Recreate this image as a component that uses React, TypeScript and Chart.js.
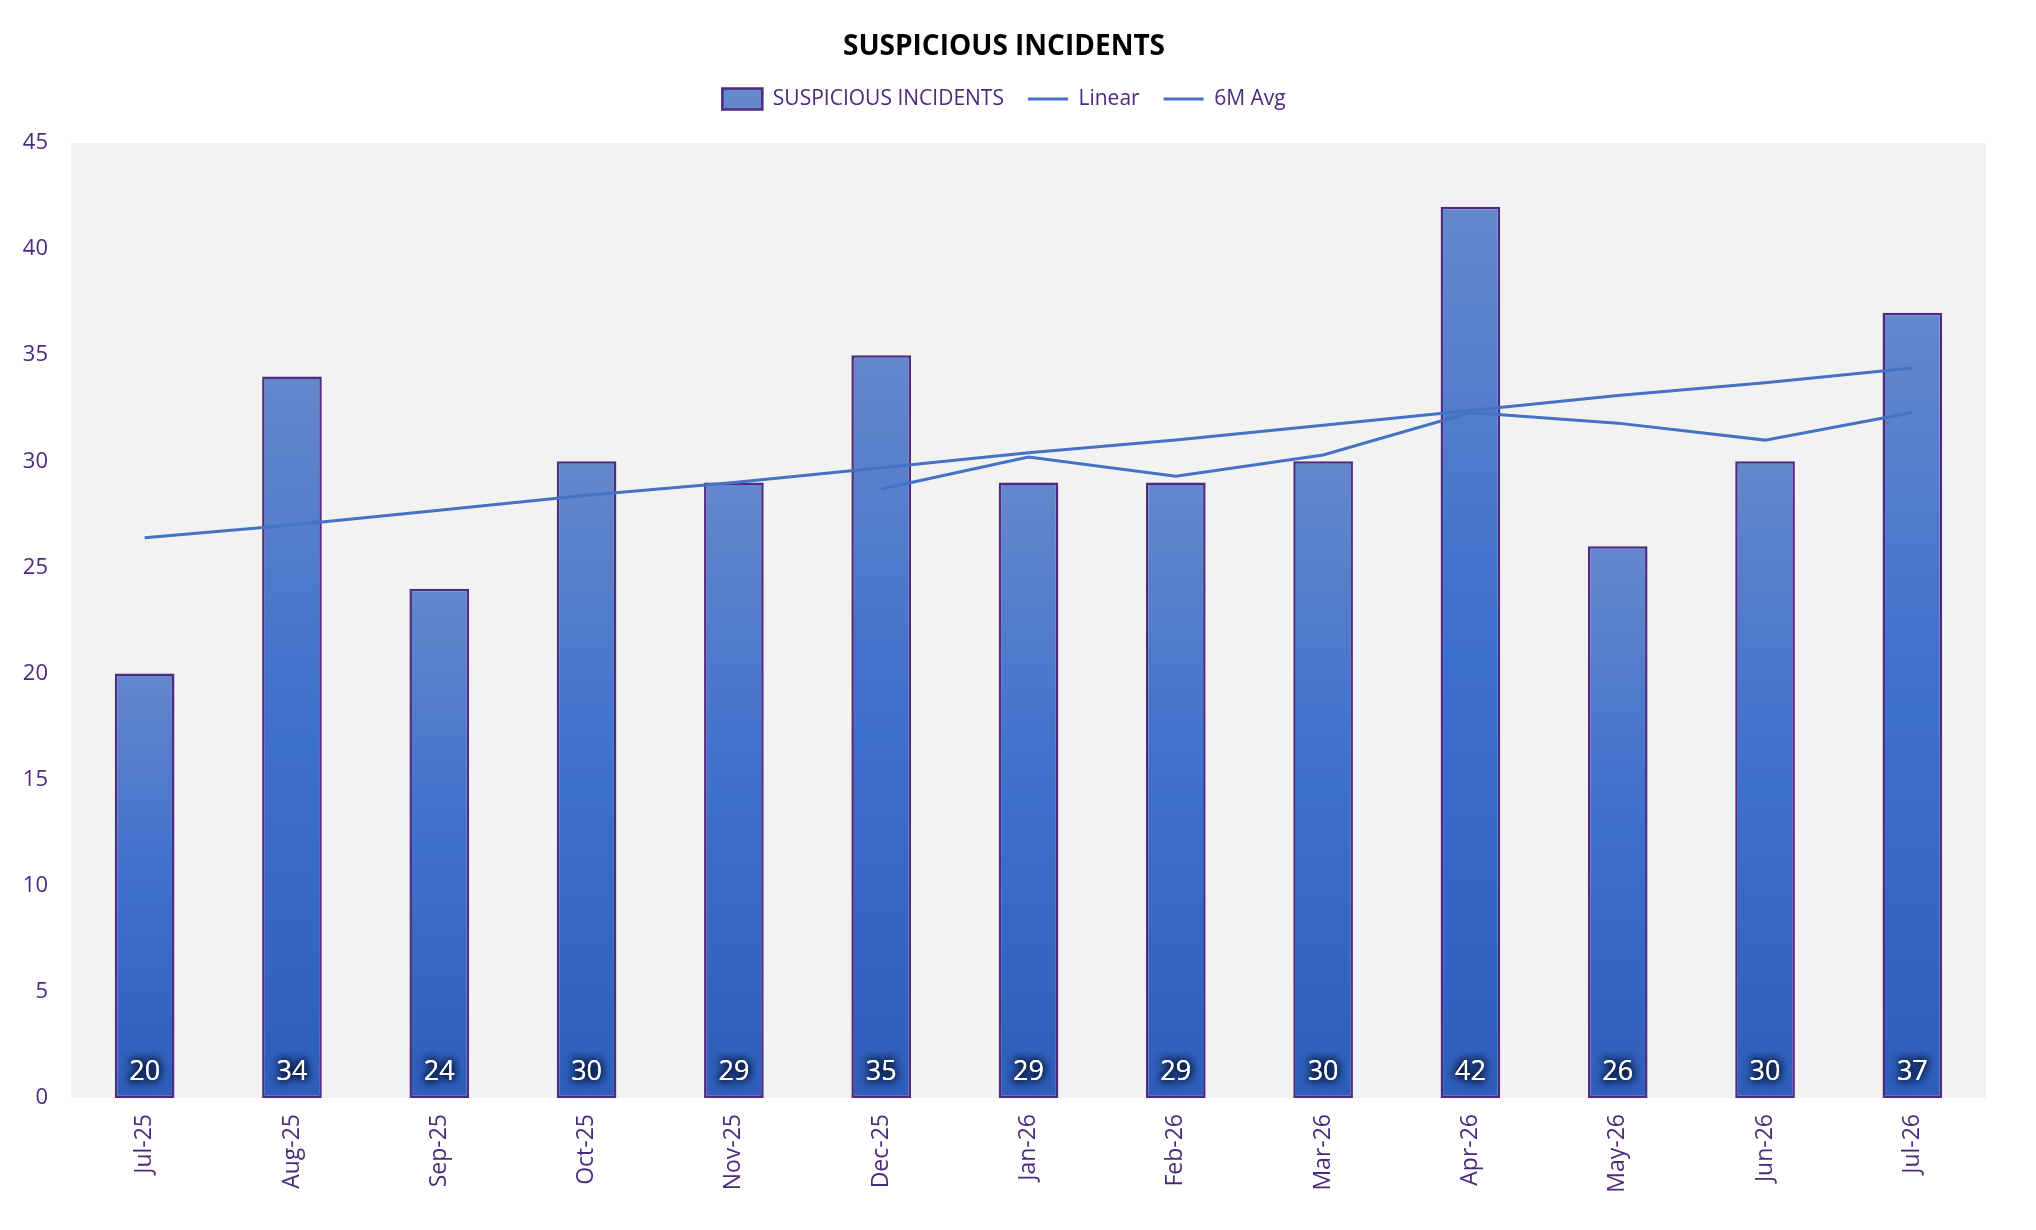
import { useEffect, useRef } from "react";
import { Chart, registerables, Plugin, ScriptableContext } from "chart.js";

Chart.register(...registerables);

// data
const months = ["Jul-25", "Aug-25", "Sep-25", "Oct-25", "Nov-25", "Dec-25", "Jan-26", "Feb-26", "Mar-26", "Apr-26", "May-26", "Jun-26", "Jul-26"];
const incidents = [20, 34, 24, 30, 29, 35, 29, 29, 30, 42, 26, 30, 37];
const linearTrend = [26.4, 27.0, 27.7, 28.4, 29.0, 29.7, 30.4, 31.0, 31.7, 32.4, 33.1, 33.7, 34.4];
const sixMonthAvg = [null, null, null, null, null, 28.7, 30.2, 29.3, 30.3, 32.3, 31.8, 31.0, 32.3];
const yMax = 45;
const yStep = 5;

const FONT = "'Open Sans', 'Noto Sans', sans-serif";
const PURPLE = "#4B2A7D";
const LINE_BLUE = "#4472C4";

// per-bar vertical gradient, light on top
const barFill = (c: ScriptableContext<"bar">) => {
  const chart = c.chart;
  if (!chart.chartArea || c.type !== "data") return "#5A80CB";
  const y = chart.scales.y;
  const top = y.getPixelForValue(incidents[c.dataIndex]);
  const bottom = y.getPixelForValue(0);
  if (!isFinite(top) || !isFinite(bottom) || top === bottom) return "#5A80CB";
  const g = chart.ctx.createLinearGradient(0, top, 0, bottom);
  g.addColorStop(0, "#6587CC");
  g.addColorStop(0.5, "#3D6FCC");
  g.addColorStop(1, "#2E5EBA");
  return g;
};

const plotBackground: Plugin = {
  id: "plotBackground",
  beforeDraw(chart) {
    const { ctx, chartArea, width, height } = chart;
    ctx.save();
    ctx.fillStyle = "#FFFFFF";
    ctx.fillRect(0, 0, width, height);
    ctx.fillStyle = "#F2F2F2";
    ctx.fillRect(chartArea.left, chartArea.top, chartArea.right - chartArea.left, chartArea.bottom - chartArea.top);
    ctx.restore();
  },
};

// extra room between legend and plot
const legendSpacer: Plugin = {
  id: "legendSpacer",
  afterInit(chart) {
    const legend = (chart as any).legend;
    if (legend && !legend._spaced) {
      const fit = legend.fit;
      legend.fit = function () {
        fit.call(this);
        this.height += 23.5;
      };
      legend._spaced = true;
    }
  },
};

const barLabels: Plugin = {
  id: "barLabels",
  afterDatasetsDraw(chart) {
    const meta = chart.getDatasetMeta(0);
    const { ctx } = chart;
    const base = chart.scales.y.getPixelForValue(0);
    ctx.save();
    ctx.font = `27px ${FONT}`;
    ctx.textAlign = "center";
    ctx.textBaseline = "middle";
    meta.data.forEach((bar, i) => {
      const text = String(incidents[i]);
      ctx.shadowColor = "rgba(5, 12, 35, 1)";
      ctx.shadowBlur = 8;
      ctx.fillStyle = "#FFFFFF";
      ctx.fillText(text, bar.x, base - 26);
      ctx.fillText(text, bar.x, base - 26);
      ctx.fillText(text, bar.x, base - 26);
    });
    ctx.restore();
  },
};

const App = () => {
  const canvasRef = useRef<HTMLCanvasElement | null>(null);

  useEffect(() => {
    if (!canvasRef.current) return;
    const chart = new Chart(canvasRef.current, {
      type: "bar",
      data: {
        labels: months,
        datasets: [
          {
            type: "bar",
            label: "SUSPICIOUS INCIDENTS",
            data: incidents,
            backgroundColor: barFill,
            borderColor: "#4E2A80",
            borderWidth: 2.5,
            borderSkipped: false,
            categoryPercentage: 1,
            barPercentage: 0.405,
            pointStyle: "rect",
            order: 2,
          },
          {
            type: "line",
            label: "Linear",
            data: linearTrend,
            borderColor: LINE_BLUE,
            backgroundColor: LINE_BLUE,
            borderWidth: 3,
            pointRadius: 0,
            tension: 0,
            pointStyle: "line",
            order: 1,
          },
          {
            type: "line",
            label: "6M Avg",
            data: sixMonthAvg,
            borderColor: LINE_BLUE,
            backgroundColor: LINE_BLUE,
            borderWidth: 3,
            pointRadius: 0,
            tension: 0,
            pointStyle: "line",
            order: 0,
          },
        ],
      },
      options: {
        responsive: true,
        maintainAspectRatio: false,
        animation: false,
        layout: { padding: { top: 33, left: 22, right: 50, bottom: 0 } },
        plugins: {
          title: {
            display: true,
            text: "SUSPICIOUS INCIDENTS",
            color: "#000000",
            font: { family: FONT, size: 28, weight: "bold", lineHeight: 1 },
            padding: { top: 0, bottom: 3.5 },
          },
          legend: {
            display: true,
            position: "top",
            labels: {
              usePointStyle: true,
              pointStyleWidth: 40,
              color: PURPLE,
              font: { family: FONT, size: 21 },
              padding: 24,
              sort: (a, b) => (a.datasetIndex ?? 0) - (b.datasetIndex ?? 0),
            },
          },
          tooltip: { enabled: false },
        },
        scales: {
          x: {
            offset: true,
            grid: { display: false, drawTicks: false },
            border: { display: false },
            ticks: {
              color: PURPLE,
              font: { family: FONT, size: 23 },
              minRotation: 90,
              maxRotation: 90,
              autoSkip: false,
              padding: 16,
            },
            afterFit: (s) => {
              s.height = 132;
            },
          },
          y: {
            min: 0,
            max: yMax,
            grid: { display: false, drawTicks: false },
            border: { display: false },
            ticks: {
              stepSize: yStep,
              color: PURPLE,
              font: { family: FONT, size: 22 },
              padding: 23,
            },
            afterFit: (s) => {
              s.width = 49;
            },
          },
        },
      },
      plugins: [plotBackground, legendSpacer, barLabels],
    });
    return () => chart.destroy();
  }, []);

  return (
    <div style={{ position: "fixed", inset: 0, background: "#fff" }}>
      <canvas ref={canvasRef} />
    </div>
  );
};

export default App;
